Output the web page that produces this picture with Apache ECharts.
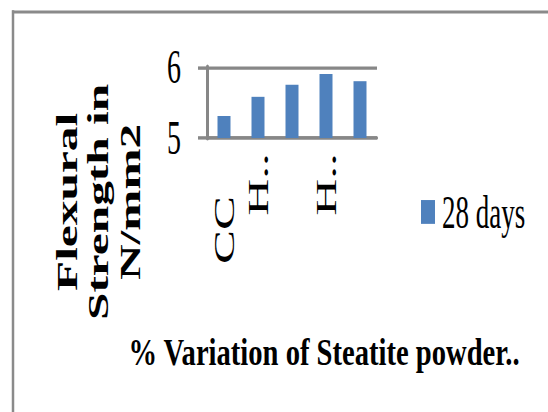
<!DOCTYPE html>
<html><head><meta charset="utf-8">
<script src="https://cdn.jsdelivr.net/npm/echarts@6/dist/echarts.min.js"></script>
<style>
html,body{margin:0;padding:0;background:#fff;overflow:hidden;width:548px;height:412px}
#c{width:548px;height:242px;transform:scaleY(1.70248);transform-origin:0 0}
</style>
</head><body><div id="c"></div>
<script>
// ---- data ----
const categories = ['CC', 'H..', 'H..', 'H..', 'H..'];
const seriesName = '28 days';
const values = [5.31, 5.58, 5.75, 5.90, 5.80];
const yTicks = [5, 6];
const shownLabels = [0, 1, 3];
const xTitle = '% Variation of Steatite powder..';
const yTitle = ['Flexural', 'Strength in', 'N/mm2'];

// ---- chart ----
const H = 242, S = 412 / H;
const serif = '"Liberation Serif","Times New Roman",serif';
const grey = '#878787';
const chart = echarts.init(document.getElementById('c'), null, {renderer: 'svg', width: 548, height: H});
chart.setOption({
  animation: false,
  backgroundColor: '#fff',
  grid: {left: 207, right: 171, top: 67 / S, bottom: H - 138 / S},
  xAxis: {
    type: 'category', data: categories,
    axisLine: {show: true, lineStyle: {color: grey, width: 2}},
    axisTick: {show: false},
    axisLabel: {
      interval: (i) => shownLabels.includes(i), rotate: 90, margin: 9,
      color: '#000', fontFamily: serif, fontSize: 30,
      formatter: (v, i) => i === 0 ? '{cc|' + v + '}' : v,
      rich: {cc: {padding: [0, 25, 0, 0], fontSize: 30, fontFamily: serif, color: '#000'}}
    }
  },
  yAxis: {
    type: 'value', min: yTicks[0], max: yTicks[yTicks.length - 1], interval: 1,
    axisLine: {show: true, lineStyle: {color: grey, width: 3}},
    axisTick: {show: true, length: 9, lineStyle: {color: grey, width: 2}},
    splitLine: {show: true, lineStyle: {color: grey, width: 2}},
    axisLabel: {margin: 26, color: '#000', fontFamily: serif, fontSize: 28}
  },
  legend: {
    left: 421, top: 111, padding: 0, itemWidth: 14, itemHeight: 14, icon: 'rect',
    textStyle: {fontFamily: serif, fontSize: 27, color: '#000', padding: [0, 0, 0, 2]},
    data: [seriesName]
  },
  series: [{
    type: 'bar', name: seriesName, data: values, barWidth: 13,
    itemStyle: {color: '#4f81bd'}
  }],
  graphic: [
    {type: 'line', shape: {x1: 12, y1: 7, x2: 560, y2: 7}, style: {stroke: '#8a8a8a', lineWidth: 1.8}},
    {type: 'line', shape: {x1: 13, y1: 6, x2: 13, y2: 260}, style: {stroke: '#8a8a8a', lineWidth: 2.5}},
    {type: 'text', x: 98.5, y: 118.6, rotation: Math.PI / 2,
     style: {text: yTitle.join('\n'), fontSize: 29, fontWeight: 'bold', fontFamily: serif,
             align: 'center', verticalAlign: 'middle', textAlign: 'center', textVerticalAlign: 'middle',
             lineHeight: 31.5, fill: '#000'}},
    {type: 'text', x: 324, y: 206.5, scaleY: 0.8,
     style: {text: xTitle, fontSize: 28.6, fontWeight: 'bold', fontFamily: serif,
             align: 'center', verticalAlign: 'middle', textAlign: 'center', textVerticalAlign: 'middle',
             fill: '#000'}}
  ]
});
</script>
</body></html>
